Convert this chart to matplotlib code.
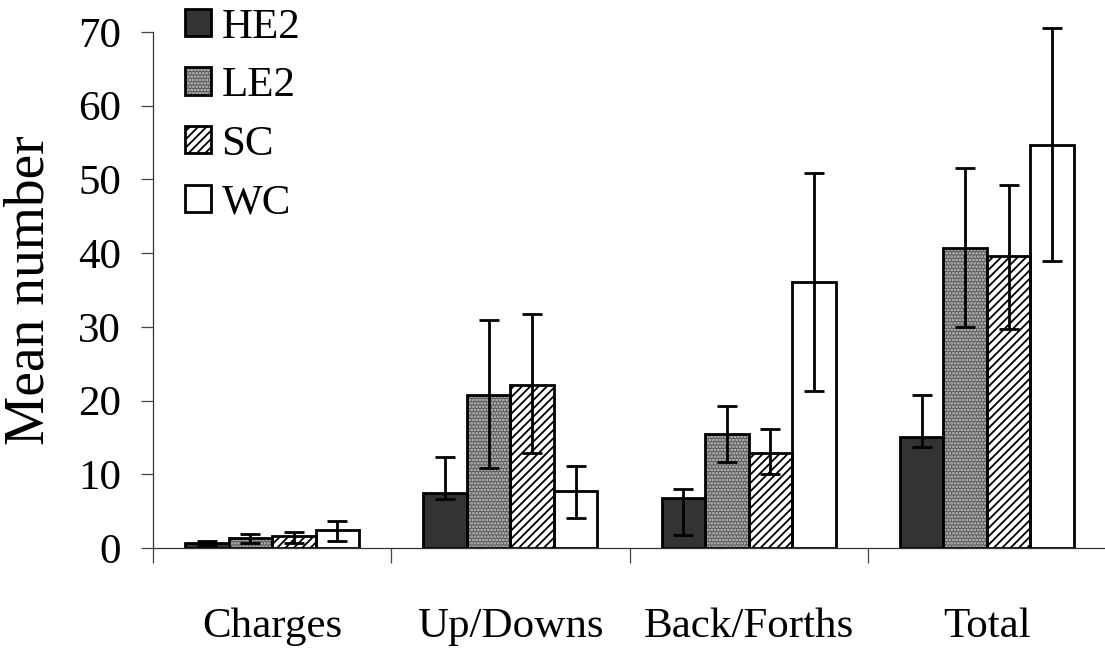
import matplotlib
matplotlib.use("Agg")
import matplotlib.pyplot as plt
from matplotlib.legend_handler import HandlerTuple
import numpy as np

categories = ["Charges", "Up/Downs", "Back/Forths", "Total"]
series = ["HE2", "LE2", "SC", "WC"]

HE2 = [0.7, 7.4, 6.8, 15.0]
HE2_lo = [0.4, 6.7, 1.8, 13.7]
HE2_hi = [1.0, 12.3, 8.0, 20.7]

LE2 = [1.3, 20.7, 15.5, 40.7]
LE2_lo = [0.7, 10.8, 11.7, 30.0]
LE2_hi = [1.9, 30.9, 19.3, 51.5]

SC = [1.6, 22.1, 12.9, 39.6]
SC_lo = [0.7, 12.9, 10.0, 29.7]
SC_hi = [2.2, 31.7, 16.1, 49.2]

WC = [2.4, 7.7, 36.1, 54.7]
WC_lo = [1.0, 4.1, 21.3, 39.0]
WC_hi = [3.6, 11.1, 50.9, 70.6]

yticks = [0, 10, 20, 30, 40, 50, 60, 70]

plt.rcParams['font.family'] = ['Liberation Serif', 'DejaVu Serif']
plt.rcParams['hatch.linewidth'] = 1.3

fig = plt.figure(figsize=(11.05, 6.48), dpi=100)
ax = fig.add_axes([153/1105, 100/648, (1106-153)/1105, 516/648])

values = [HE2, LE2, SC, WC]
lows = [HE2_lo, LE2_lo, SC_lo, WC_lo]
highs = [HE2_hi, LE2_hi, SC_hi, WC_hi]
faces = ['#333333', '#5a5a5a', 'white', 'white']
hatches = [None, '.....', '////', None]
hatch_cols = ['black', '#c8c8c8', 'black', 'black']

w = 43.5 / 238
x = np.arange(len(categories)) + 0.5
handles = []
for j, name in enumerate(series):
    xs = x + (j - 1.5) * w
    v = np.array(values[j])
    fill = ax.bar(xs, v, width=w, color=faces[j], edgecolor=hatch_cols[j],
                  linewidth=0, hatch=hatches[j], zorder=2)
    edge = ax.bar(xs, v, width=w, fill=False, edgecolor='black', linewidth=2.0,
                  zorder=2.5)
    handles.append((fill.patches[0], edge.patches[0]))
    yerr = [v - np.array(lows[j]), np.array(highs[j]) - v]
    eb = ax.errorbar(xs, v, yerr=yerr, fmt='none', ecolor='black', elinewidth=2.0,
                     capsize=7.5, capthick=2.0, zorder=3)
    for art in eb.get_children():
        art.set_clip_on(False)

ax.set_xlim(0, 4)
ax.set_ylim(0, 70)
ax.set_yticks(yticks)
ax.set_yticklabels([str(t) for t in yticks])

ax.set_xticks([0, 1, 2, 3, 4])
ax.set_xticklabels([])
ax.set_xticks(x, minor=True)
ax.set_xticklabels(categories, minor=True)
ax.tick_params(axis='x', which='major', direction='out', length=11, width=0.9, color='#444444')
ax.tick_params(axis='x', which='minor', length=0, pad=43, labelsize=31)
ax.tick_params(axis='y', direction='out', length=9, width=0.9, color='#444444', pad=14, labelsize=31)

for s in ['top', 'right']:
    ax.spines[s].set_visible(False)
for s in ['left', 'bottom']:
    ax.spines[s].set_linewidth(0.9)
    ax.spines[s].set_color('#333333')

ax.set_ylabel("Mean number", fontsize=40, labelpad=16)

leg = ax.legend(handles, series, loc='upper left', bbox_to_anchor=(185/1105, 1 - 8/648),
                bbox_transform=fig.transFigure, frameon=False, fontsize=31,
                handlelength=0.6, handleheight=0.6, handletextpad=0.25,
                labelspacing=0.47, borderpad=0, borderaxespad=0,
                handler_map={tuple: HandlerTuple(ndivide=1, pad=0)})

fig.savefig("out.png", dpi=100)
